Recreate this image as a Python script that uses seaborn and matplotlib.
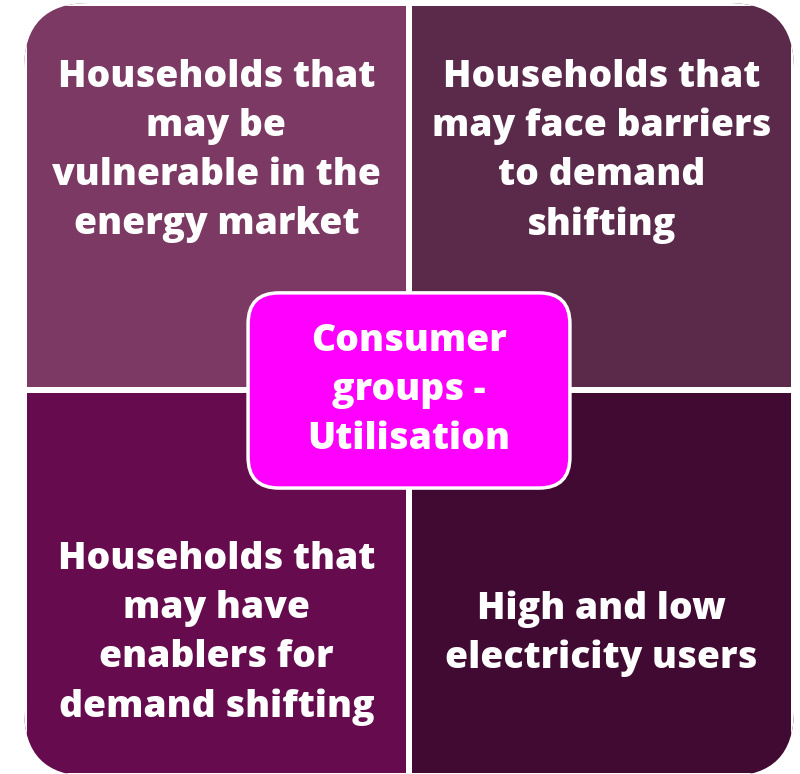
import numpy as np
import pandas as pd
import matplotlib
matplotlib.use("Agg")
import matplotlib.pyplot as plt
import seaborn as sns
from matplotlib.colors import ListedColormap
from matplotlib.patches import FancyBboxPatch

# ---- data ----
quadrant_labels = [
    "Households that\nmay be\nvulnerable in the\nenergy market",
    "Households that\nmay face barriers\nto demand\nshifting",
    "Households that\nmay have\nenablers for\ndemand shifting",
    "High and low\nelectricity users",
]
quadrant_rows = [0, 0, 1, 1]
quadrant_cols = [0, 1, 0, 1]
quadrant_colors = ["#7B3963", "#5B2A4B", "#660C4E", "#410A33"]
center_label = "Consumer\ngroups -\nUtilisation"
center_color = "#FF00FF"

sns.set_theme(style="white")
plt.rcParams['font.family'] = ['Open Sans', 'DejaVu Sans']

W, H = 800, 774
fig = plt.figure(figsize=(W / 100, H / 100), dpi=100)
fig.patch.set_facecolor("white")
# axes covering the quadrant block (pixel box 24..794 x 3..776)
ax = fig.add_axes([24 / W, (H - 776) / H, 770 / W, 773 / H])

grid = np.zeros((2, 2))
for r, c, i in zip(quadrant_rows, quadrant_cols, range(len(quadrant_labels))):
    grid[r, c] = i
sns.heatmap(pd.DataFrame(grid), cmap=ListedColormap(quadrant_colors), vmin=0,
            vmax=len(quadrant_colors) - 1, cbar=False, linewidths=2.9,
            linecolor="white", xticklabels=False, yticklabels=False, ax=ax)
ax.set_xlim(0, 2)
ax.set_ylim(2, 0)

clip = FancyBboxPatch((0, 0), 2, 2, boxstyle="round,pad=0,rounding_size=0.17",
                      transform=ax.transData, facecolor="none", edgecolor="none")
for coll in ax.collections:
    coll.set_clip_path(clip)

# vertical text anchor within each row (layout)
row_text_y = {0: 0.384, 1: 1.632}
for lab, r, c in zip(quadrant_labels, quadrant_rows, quadrant_cols):
    ax.text(c + 0.5, row_text_y[r], lab, ha="center", va="center", color="white",
            fontsize=26.8, fontweight=800, linespacing=1.43)

box = FancyBboxPatch((0.582, 0.750), 0.836, 0.505,
                     boxstyle="round,pad=0,rounding_size=0.08",
                     facecolor=center_color, edgecolor="white", linewidth=2.5,
                     transform=ax.transData, zorder=5)
ax.add_patch(box)
ax.text(1.0, 1.002, center_label, ha="center", va="center", color="white",
        fontsize=26.8, fontweight=800, linespacing=1.43, zorder=6)

ax.set_axis_off()
fig.savefig("out.png", dpi=100, facecolor="white")
